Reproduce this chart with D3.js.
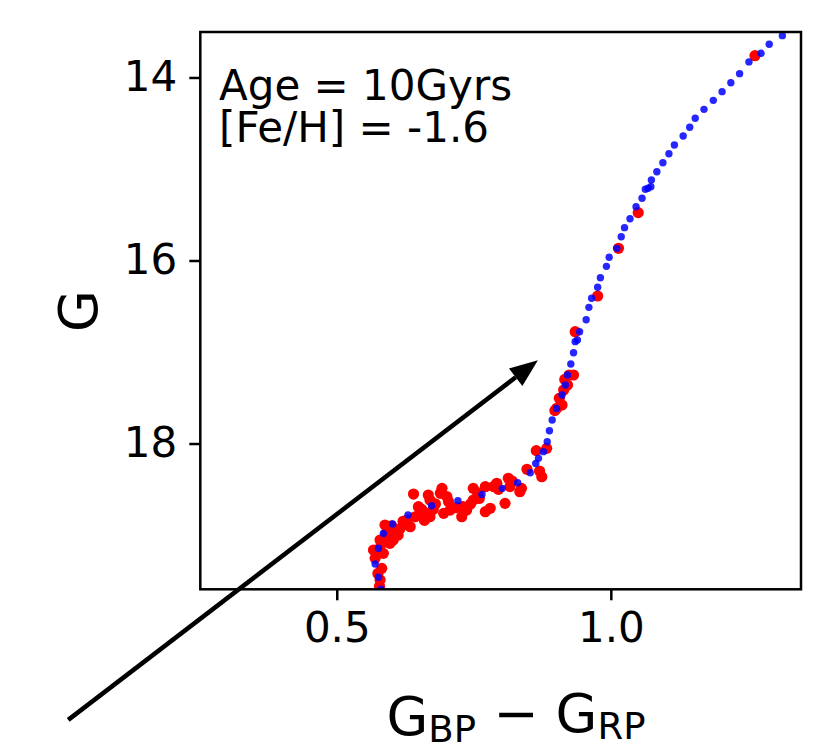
<!DOCTYPE html>
<html>
<head>
<meta charset="utf-8">
<script src="https://cdn.jsdelivr.net/npm/d3@7"></script>
<style>
  html, body { margin: 0; padding: 0; background: #fff; }
  svg { display: block; font-family: "DejaVu Sans", sans-serif; }
</style>
</head>
<body>
<svg id="chart" width="822" height="750"></svg>
<script>
// Isochrone (Age = 10 Gyr, [Fe/H] = -1.6): colour and G magnitude
const isoColor = [1.313, 1.289, 1.274, 1.252, 1.235, 1.219, 1.203, 1.187, 1.170, 1.154,
  1.144, 1.132, 1.116, 1.106, 1.095, 1.084, 1.074, 1.073, 1.068, 1.063,
  1.057, 1.046, 1.035, 1.025, 1.019, 1.011, 0.997, 0.992, 0.981, 0.976,
  0.965, 0.960, 0.955, 0.943, 0.939, 0.935, 0.932, 0.927, 0.921, 0.917,
  0.911, 0.901, 0.893, 0.888, 0.884, 0.877, 0.868, 0.863, 0.853, 0.830,
  0.802, 0.765, 0.721, 0.673, 0.630, 0.602, 0.585, 0.576, 0.570, 0.576, 0.581];
const isoMag = [13.543, 13.637, 13.736, 13.830, 13.958, 14.057, 14.155, 14.250, 14.348, 14.446,
  14.544, 14.639, 14.738, 14.833, 14.931, 15.030, 15.120, 15.193, 15.211, 15.222,
  15.320, 15.412, 15.543, 15.641, 15.740, 15.867, 15.965, 16.064, 16.188, 16.293,
  16.413, 16.512, 16.647, 16.778, 16.869, 16.887, 17.008, 17.131, 17.251, 17.361,
  17.470, 17.616, 17.743, 17.860, 17.980, 18.089, 18.162, 18.217, 18.319, 18.428,
  18.490, 18.556, 18.625, 18.680, 18.781, 18.880, 18.982, 19.145, 19.317, 19.462, 19.593];

// Observed stars
const starColor = [1.263, 1.050, 1.014, 0.976, 0.935, 0.924, 0.932, 0.921, 0.914, 0.906,
  0.911, 0.901, 0.864, 0.883, 0.847, 0.870, 0.874, 0.813, 0.792, 0.786,
  0.834, 0.837, 0.807, 0.771, 0.749, 0.749, 0.780, 0.771, 0.737, 0.728,
  0.692, 0.689, 0.701, 0.704, 0.707, 0.695, 0.667, 0.670, 0.640, 0.649,
  0.652, 0.664, 0.670, 0.628, 0.634, 0.616, 0.610, 0.588, 0.594, 0.591,
  0.603, 0.597, 0.579, 0.576, 0.567, 0.570, 0.582, 0.579,
  0.600, 0.621, 0.655, 0.680, 0.718, 0.744, 0.760, 0.795, 0.816, 0.581,
  0.585, 0.575, 0.578, 0.606, 0.643, 0.676, 0.612, 0.660, 0.590, 0.916,
  0.898, 0.730, 0.757, 0.820];
const starMag = [13.762, 15.477, 15.867, 16.388, 16.778, 17.251, 17.251, 17.361, 17.415, 17.506,
  17.579, 17.616, 18.078, 18.053, 18.282, 18.300, 18.363, 18.380, 18.435, 18.470,
  18.527, 18.490, 18.654, 18.472, 18.490, 18.617, 18.708, 18.745, 18.727, 18.800,
  18.490, 18.544, 18.581, 18.636, 18.727, 18.763, 18.563, 18.617, 18.552, 18.690,
  18.763, 18.763, 18.800, 18.836, 18.909, 18.927, 18.982, 18.891, 18.945, 19.018,
  19.055, 19.091, 19.055, 19.164, 19.164, 19.255, 19.364, 19.490,
  18.900, 18.850, 18.720, 18.660, 18.700, 18.660, 18.600, 18.500, 18.470, 19.100,
  19.200, 19.420, 19.560, 18.960, 18.800, 18.720, 19.000, 18.840, 18.990, 17.300,
  17.640, 18.690, 18.540, 18.410];

const xTicks = [0.5, 1.0];
const yTicks = [14, 16, 18];
const xDomain = [0.251, 1.347];
const yDomain = [13.503, 19.593];
const annotationLines = ["Age = 10Gyrs", "[Fe/H] = -1.6"];
// Arrow from (colour, G) start to tip, in data units
const arrowFrom = [0.010, 21.02];
const arrowTo = [0.867, 17.09];

const svg = d3.select("#chart");
const plotLeft = 200.3, plotTop = 32, plotRight = 801, plotBottom = 589.3;

const x = d3.scaleLinear().domain(xDomain).range([plotLeft, plotRight]);
const y = d3.scaleLinear().domain(yDomain).range([plotTop, plotBottom]);

const iso = isoColor.map((c, i) => ({c, g: isoMag[i]}));
const stars = starColor.map((c, i) => ({c, g: starMag[i]}));

svg.append("defs").append("clipPath").attr("id", "plotClip")
  .append("rect").attr("x", plotLeft).attr("y", plotTop)
  .attr("width", plotRight - plotLeft).attr("height", plotBottom - plotTop);

const plot = svg.append("g").attr("clip-path", "url(#plotClip)");

plot.selectAll("circle.star").data(stars).join("circle")
  .attr("class", "star")
  .attr("cx", d => x(d.c)).attr("cy", d => y(d.g))
  .attr("r", 5.6).attr("fill", "#ff0000");

plot.selectAll("circle.iso").data(iso).join("circle")
  .attr("class", "iso")
  .attr("cx", d => x(d.c)).attr("cy", d => y(d.g))
  .attr("r", 3.7).attr("fill", "#0000ff").attr("fill-opacity", 0.85);

// Axes
const xAxis = d3.axisBottom(x).tickValues(xTicks).tickFormat(d3.format(".1f"))
  .tickSize(11).tickPadding(12);
const yAxis = d3.axisLeft(y).tickValues(yTicks).tickFormat(d3.format("d"))
  .tickSize(11).tickPadding(12);

const gx = svg.append("g").attr("transform", `translate(0,${plotBottom})`).call(xAxis);
const gy = svg.append("g").attr("transform", `translate(${plotLeft},0)`).call(yAxis);
[gx, gy].forEach(g => {
  g.select(".domain").remove();
  g.selectAll(".tick line").attr("stroke", "#000").attr("stroke-width", 2.5);
  g.selectAll(".tick text").attr("fill", "#000")
    .style("font-family", "DejaVu Sans").style("font-size", "42px");
});

svg.append("rect").attr("x", plotLeft).attr("y", plotTop)
  .attr("width", plotRight - plotLeft).attr("height", plotBottom - plotTop)
  .attr("fill", "none").attr("stroke", "#000").attr("stroke-width", 2.5);

// Axis labels
const xl = svg.append("text").attr("x", 516).attr("y", 735)
  .attr("text-anchor", "middle").style("font-size", "54px").attr("fill", "#000");
xl.append("tspan").text("G");
xl.append("tspan").attr("dy", "0.2em").style("font-size", "37px").text("BP");
xl.append("tspan").attr("dy", "-0.2em").text(" \u2212 G");
xl.append("tspan").attr("dy", "0.2em").style("font-size", "37px").text("RP");

svg.append("text").attr("transform", "translate(97,311) rotate(-90)")
  .attr("text-anchor", "middle").style("font-size", "54px").attr("fill", "#000")
  .text("G");

// Annotation
svg.append("g").selectAll("text").data(annotationLines).join("text")
  .attr("x", 219).attr("y", (d, i) => 100 + i * 42)
  .style("font-size", "42px").attr("fill", "#000").text(d => d);

// Arrow
const x0 = x(arrowFrom[0]), y0 = y(arrowFrom[1]);
const x1 = x(arrowTo[0]), y1 = y(arrowTo[1]);
const ang = Math.atan2(y1 - y0, x1 - x0);
const headLen = 28, headHalf = 11;
const bx = x1 - headLen * Math.cos(ang), by = y1 - headLen * Math.sin(ang);
svg.append("line").attr("x1", x0).attr("y1", y0).attr("x2", bx).attr("y2", by)
  .attr("stroke", "#000").attr("stroke-width", 4.5);
svg.append("path")
  .attr("d", `M${x1},${y1}L${bx - headHalf * Math.sin(ang)},${by + headHalf * Math.cos(ang)}L${bx + headHalf * Math.sin(ang)},${by - headHalf * Math.cos(ang)}Z`)
  .attr("fill", "#000");
</script>
</body>
</html>
